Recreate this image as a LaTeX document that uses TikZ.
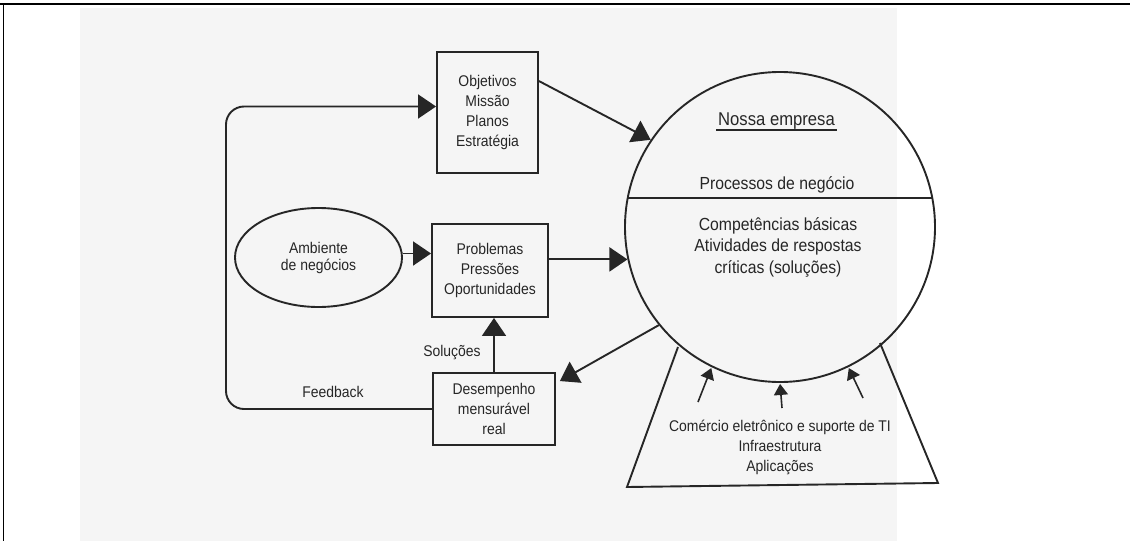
\documentclass[tikz,border=0pt]{standalone}
\usepackage{fontspec}
\setmainfont[FakeStretch=0.9]{Liberation Sans}
\usetikzlibrary{arrows.meta,calc,shapes.geometric}
\begin{document}
\begin{tikzpicture}[x=1pt,y=-1pt,
  ln/.style={draw=black!85, line width=1.9pt},
  arr/.style={ln, -{Triangle[length=18pt,width=24pt]}},
  sarr/.style={ln, line width=1.6pt, -{Triangle[length=11pt,width=14pt]}, shorten >=1pt},
  txt/.style={font=\fontsize{15.5}{20}\selectfont, text=black!85, align=center},
  bigtxt/.style={font=\fontsize{17.5}{21.5}\selectfont, text=black!85, align=center},
  boxn/.style={ln, rectangle, txt, inner sep=0pt}
]
\useasboundingbox (0,0) rectangle (1130,541);
% page background and frame
\fill[black!4] (80,8) rectangle (897,541);
\draw[line width=2pt] (0,4) -- (1130,4);
\draw[line width=1.5pt] (3.5,4) -- (3.5,541);

% nodes
\node[boxn, minimum width=101pt, minimum height=121pt] (obj) at (487.5,112.5) {Objetivos\\Missão\\Planos\\Estratégia};
\node[boxn, minimum width=116pt, minimum height=93pt] (prob) at (490,270.5) {Problemas\\Pressões\\Oportunidades};
\node[boxn, minimum width=122pt, minimum height=72pt] (des) at (494,409) {Desempenho\\mensurável\\real};
\node[ln, ellipse, minimum width=167pt, minimum height=99pt, inner sep=0pt,
      font=\fontsize{15.5}{17}\selectfont, text=black!85, align=center] (amb) at (318.5,257.5) {Ambiente\\de negócios};
\node[ln, circle, minimum size=310pt, inner sep=0pt] (emp) at (780,227) {};

% texts in circle
\node[bigtxt, font=\fontsize{18.5}{22}\selectfont, anchor=base, inner xsep=2pt, inner ysep=0pt] (ne) at (776.5,125) {Nossa empresa};
\draw[ln] ($(ne.base west)+(0,5)$) -- ($(ne.base east)+(0,5)$);
\node[bigtxt, anchor=base] (pn) at (777,189) {Processos de negócio};
\draw[ln] ($(emp.center)+(-152.3,-29)$) -- ($(emp.center)+(152.3,-29)$);
\node[bigtxt] (cb) at (778,247) {Competências básicas\\Atividades de respostas\\críticas (soluções)};

% trapezoid
\coordinate (t1) at (678,347);
\coordinate (t2) at (627,487);
\coordinate (t3) at (938,483);
\coordinate (t4) at (880,343);
\draw[ln] (t1) -- (t2) -- (t3) -- (t4);
\node[txt] (ti) at (780,447) {Comércio eletrônico e suporte de TI\\Infraestrutura\\Aplicações};
\coordinate (s1) at (698,402);
\coordinate (s2) at (782,408);
\coordinate (s3) at (863,398);
\draw[sarr] (s1) -- (emp.244);
\draw[sarr] (s2) -- (emp.270);
\draw[sarr] (s3) -- (emp.296);

% connectors
\draw[arr] ($(obj.north east)+(0,30)$) -- (emp.146);
\draw[arr] (prob.east |- emp.192) -- (emp.192);
\draw[arr] ($(amb.east)+(0,-4)$) -- ($(prob.west |- amb.east)+(0,-4)$);
\draw[arr] (des.north) -- (prob.south -| des.north);
\draw[arr] (emp.219) -- ($(des.north east)+(4,9)$);
\coordinate (lp) at (226,0);
\draw[arr, rounded corners=18pt] (des.west) -- (des.west -| lp) -- ($(obj.west -| lp)+(0,-6)$) -- ($(obj.west)+(0,-6)$);

% labels
\node[txt] (fb) at (333,392) {Feedback};
\node[txt] (so) at (452,353) {Soluções};
\end{tikzpicture}
\end{document}
